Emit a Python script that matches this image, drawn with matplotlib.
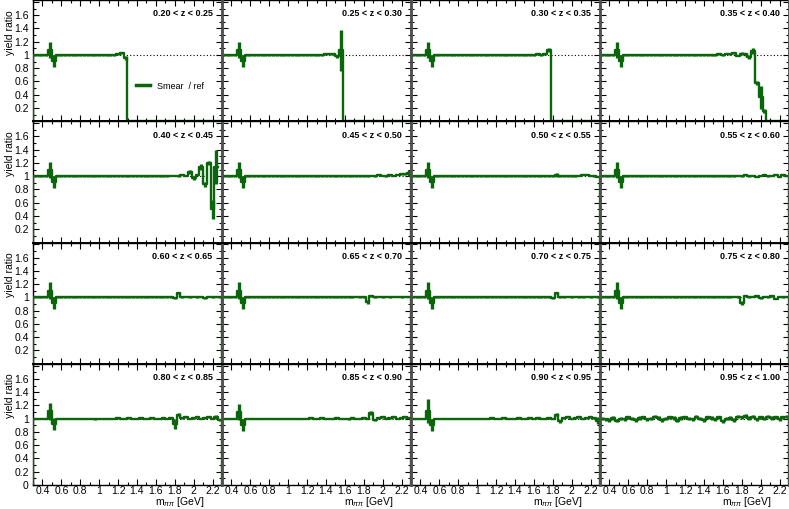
import numpy as np
import matplotlib
matplotlib.use('Agg')
import matplotlib.pyplot as plt
from matplotlib.lines import Line2D
from matplotlib.ticker import MultipleLocator

plt.rcParams['font.family'] = ['Liberation Sans', 'DejaVu Sans']
plt.rcParams['mathtext.fontset'] = 'custom'
plt.rcParams['mathtext.rm'] = 'Liberation Sans'
plt.rcParams['mathtext.it'] = 'Liberation Sans:italic'

# binning of the m_pipi histograms (GeV)
m_lo, m_hi, n_bins = 0.3, 2.3, 50

z_labels = ["0.20 < z < 0.25", "0.25 < z < 0.30", "0.30 < z < 0.35", "0.35 < z < 0.40",
            "0.40 < z < 0.45", "0.45 < z < 0.50", "0.50 < z < 0.55", "0.55 < z < 0.60",
            "0.60 < z < 0.65", "0.65 < z < 0.70", "0.70 < z < 0.75", "0.75 < z < 0.80",
            "0.80 < z < 0.85", "0.85 < z < 0.90", "0.90 < z < 0.95", "0.95 < z < 1.00"]

# smear / ref yield ratio, one value per m_pipi bin
ratio_z1 = [1.00, 1.00, 1.00, 1.00, 1.08, 0.91, 1.00, 1.00, 1.00, 1.00,
            1.00, 1.00, 1.00, 1.00, 1.00, 1.00, 1.00, 1.00, 1.00, 1.00,
            1.00, 1.00, 1.01, 1.03, 0.95, 0, 0, 0, 0, 0,
            0, 0, 0, 0, 0, 0, 0, 0, 0, 0,
            0, 0, 0, 0, 0, 0, 0, 0, 0, 0]
ratio_z2 = [1.00, 1.00, 1.00, 1.00, 1.08, 0.91, 1.00, 1.00, 1.00, 1.00,
            1.00, 1.00, 1.00, 1.00, 1.00, 1.00, 1.00, 1.00, 1.00, 1.00,
            1.00, 1.00, 1.00, 1.00, 1.00, 1.00, 1.00, 1.01, 1.01, 1.02,
            0.98, 1.07, 0, 0, 0, 0, 0, 0, 0, 0,
            0, 0, 0, 0, 0, 0, 0, 0, 0, 0]
ratio_z3 = [1.00, 1.00, 1.00, 1.00, 1.08, 0.91, 1.00, 1.00, 1.00, 1.00,
            1.00, 1.00, 1.00, 1.00, 1.00, 1.00, 1.00, 1.00, 1.00, 1.00,
            1.00, 1.00, 1.00, 1.00, 1.00, 1.00, 1.00, 1.00, 1.00, 1.00,
            1.00, 1.00, 1.00, 1.01, 1.00, 1.01, 1.07, 0, 0, 0,
            0, 0, 0, 0, 0, 0, 0, 0, 0, 0]
ratio_z4 = [1.00, 1.00, 1.00, 1.00, 1.08, 0.91, 1.00, 1.00, 1.00, 1.00,
            1.00, 1.00, 1.00, 1.00, 1.00, 1.00, 1.00, 1.00, 1.00, 1.00,
            1.00, 1.00, 1.00, 1.00, 1.00, 1.00, 1.00, 1.00, 1.00, 1.00,
            1.00, 1.01, 1.00, 1.02, 1.01, 1.03, 0.99, 1.02, 1.01, 0.97,
            1.06, 0.58, 0.36, 0.15, 0, 0, 0, 0, 0, 0]
ratio_z5 = [1.00, 1.00, 1.00, 1.00, 1.09, 0.91, 1.00, 1.00, 1.00, 1.00,
            1.00, 1.00, 1.00, 1.00, 1.00, 1.00, 1.00, 1.00, 1.00, 1.00,
            1.00, 1.00, 1.00, 1.00, 1.00, 1.00, 1.00, 1.00, 1.00, 1.00,
            1.00, 1.00, 1.00, 1.00, 1.00, 1.00, 1.01, 1.01, 1.00, 1.02,
            1.01, 1.06, 0.97, 1.02, 1.14, 0.88, 1.20, 0.50, 1.14, np.nan]
ratio_z6 = [1.00, 1.00, 1.00, 1.00, 1.09, 0.91, 1.00, 1.00, 1.00, 1.00,
            1.00, 1.00, 1.00, 1.00, 1.00, 1.00, 1.00, 1.00, 1.00, 1.00,
            1.00, 1.00, 1.00, 1.00, 1.00, 1.00, 1.00, 1.00, 1.00, 1.00,
            1.00, 1.00, 1.00, 1.00, 1.00, 1.00, 1.00, 1.00, 1.00, 1.01,
            1.00, 1.02, 1.01, 1.00, 1.02, 1.01, 1.02, 1.03, 1.03, 1.05]
ratio_z7 = [1.00, 1.00, 1.00, 1.00, 1.09, 0.92, 1.00, 1.00, 1.00, 1.00,
            1.00, 1.00, 1.00, 1.00, 1.00, 1.00, 1.00, 1.00, 1.00, 1.00,
            1.00, 1.00, 1.00, 1.00, 1.00, 1.00, 1.00, 1.00, 1.00, 1.00,
            1.00, 1.00, 1.00, 1.00, 1.00, 1.00, 1.00, 1.00, 1.02, 1.00,
            1.00, 1.00, 1.00, 1.00, 1.01, 1.02, 1.02, 1.01, 1.00, 0.99]
ratio_z8 = [1.00, 1.00, 1.00, 1.00, 1.09, 0.91, 1.00, 1.00, 1.00, 1.00,
            1.00, 1.00, 1.00, 1.00, 1.00, 1.00, 1.00, 1.00, 1.00, 1.00,
            1.00, 1.00, 1.00, 1.00, 1.00, 1.00, 1.00, 1.00, 1.00, 1.00,
            1.00, 1.00, 1.00, 1.00, 1.00, 1.00, 1.01, 1.00, 1.02, 1.00,
            1.01, 0.99, 1.01, 1.02, 1.00, 1.01, 1.02, 0.99, 1.02, 1.01]
ratio_z9 = [1.00, 1.00, 1.00, 1.00, 1.10, 0.91, 1.00, 1.00, 1.00, 1.00,
            1.00, 1.00, 1.00, 1.00, 1.00, 1.00, 1.00, 1.00, 1.00, 1.00,
            1.00, 1.00, 1.00, 1.00, 1.00, 1.00, 1.00, 1.00, 1.00, 1.00,
            1.00, 1.00, 1.00, 1.00, 1.00, 1.00, 1.00, 0.99, 1.07, 1.00,
            1.01, 1.00, 1.01, 1.00, 1.01, 0.99, 1.01, 1.00, 1.01, 1.00]
ratio_z10 = [1.00, 1.00, 1.00, 1.00, 1.10, 0.91, 1.00, 1.00, 1.00, 1.00,
             1.00, 1.00, 1.00, 1.00, 1.00, 1.00, 1.00, 1.00, 1.00, 1.00,
             1.00, 1.00, 1.00, 1.00, 1.00, 1.00, 1.00, 1.00, 1.00, 1.00,
             1.00, 1.00, 1.00, 1.00, 1.00, 1.01, 1.00, 1.00, 0.93, 1.02,
             1.00, 1.01, 1.00, 1.01, 1.00, 1.01, 1.01, 1.00, 1.01, 1.01]
ratio_z11 = [1.00, 1.00, 1.00, 1.00, 1.10, 0.91, 1.00, 1.00, 1.00, 1.00,
             1.00, 1.00, 1.00, 1.00, 1.00, 1.00, 1.00, 1.00, 1.00, 1.00,
             1.00, 1.00, 1.00, 1.00, 1.00, 1.00, 1.00, 1.00, 1.00, 1.00,
             1.00, 1.00, 1.00, 1.00, 1.00, 1.00, 1.00, 0.99, 1.07, 1.00,
             1.00, 1.01, 1.00, 1.01, 1.00, 1.00, 1.01, 1.00, 1.01, 1.00]
ratio_z12 = [1.00, 1.00, 1.00, 1.00, 1.10, 0.91, 1.00, 1.00, 1.00, 1.00,
             1.00, 1.00, 1.00, 1.00, 1.00, 1.00, 1.00, 1.00, 1.00, 1.00,
             1.00, 1.00, 1.00, 1.00, 1.00, 1.00, 1.00, 1.00, 1.00, 1.00,
             1.00, 1.00, 1.00, 1.00, 1.00, 1.01, 1.00, 0.92, 1.03, 1.00,
             1.01, 1.02, 0.99, 1.01, 1.00, 1.02, 0.98, 1.01, 1.00, 1.01]
ratio_z13 = [1.00, 1.00, 1.00, 1.00, 1.11, 0.92, 1.00, 1.00, 1.00, 1.00,
             1.00, 1.00, 1.00, 1.00, 1.00, 1.00, 0.99, 1.00, 1.00, 1.00,
             1.00, 1.00, 1.01, 1.00, 1.00, 1.01, 1.00, 1.00, 1.01, 1.00,
             1.00, 1.01, 1.00, 1.00, 1.01, 1.00, 1.01, 0.92, 1.06, 1.01,
             1.02, 1.00, 1.01, 1.02, 1.00, 1.01, 1.02, 1.00, 1.03, 0.98]
ratio_z14 = [1.00, 1.00, 1.00, 1.00, 1.10, 0.91, 1.00, 1.00, 1.00, 1.00,
             1.00, 1.00, 1.00, 1.00, 1.00, 1.00, 1.00, 1.00, 1.00, 1.00,
             1.00, 1.00, 1.00, 1.01, 1.00, 1.00, 1.01, 1.00, 1.00, 1.00,
             1.01, 1.00, 1.00, 0.99, 1.01, 1.00, 1.00, 1.01, 1.00, 1.08,
             0.98, 1.01, 1.02, 1.00, 1.01, 1.02, 1.00, 1.01, 1.02, 1.01]
ratio_z15 = [1.00, 1.00, 1.00, 1.00, 1.12, 0.90, 1.00, 1.00, 1.00, 1.00,
             1.00, 1.00, 1.00, 1.00, 1.00, 1.00, 1.00, 1.00, 1.00, 1.00,
             1.00, 1.01, 1.00, 1.00, 1.01, 1.00, 1.00, 1.00, 1.01, 1.00,
             1.00, 1.01, 1.00, 1.01, 1.00, 1.00, 1.01, 1.00, 1.06, 0.96,
             1.01, 1.02, 1.00, 1.01, 1.02, 1.00, 1.01, 1.02, 1.01, 0.97]
ratio_z16 = [1.00, 0.99, 0.98, 1.01, 0.97, 1.00, 0.99, 1.02, 1.00, 0.98,
             1.01, 1.02, 0.99, 1.00, 1.03, 1.01, 0.98, 1.00, 1.02, 1.01,
             0.97, 1.01, 1.02, 1.00, 0.99, 1.03, 1.00, 0.98, 1.02, 1.01,
             0.99, 1.02, 0.96, 1.00, 1.01, 0.98, 1.03, 1.02, 1.04, 1.01,
             1.03, 0.99, 1.02, 1.00, 1.03, 1.01, 1.02, 0.99, 1.02, 1.03]

# typical statistical error per panel, plus the bins with visibly larger error bars
base_err = [0.008] * 15 + [0.025]
k0_err = {4: 0.12, 5: 0.09}
big_err = [
    {23: 0.02, 24: 0.03},
    {29: 0.01, 30: 0.02, 31: 0.31},
    {36: 0.03},
    {37: 0.02, 38: 0.02, 39: 0.03, 40: 0.04, 41: 0.03, 42: 0.17, 43: 0.03},
    {41: 0.03, 42: 0.03, 43: 0.02, 44: 0.05, 45: 0.04, 46: 0.03, 47: 0.14, 48: 0.26},
    {49: 0.05},
    {38: 0.03},
    {},
    {4: 0.13, 38: 0.02},
    {4: 0.13, 38: 0.03},
    {4: 0.13, 38: 0.02},
    {4: 0.13, 37: 0.03},
    {4: 0.13, 37: 0.08, 38: 0.02, 48: 0.03},
    {4: 0.12, 39: 0.03},
    {4: 0.18, 38: 0.02, 39: 0.02, 49: 0.05},
    {},
]

ratios = [ratio_z1, ratio_z2, ratio_z3, ratio_z4, ratio_z5, ratio_z6, ratio_z7, ratio_z8,
          ratio_z9, ratio_z10, ratio_z11, ratio_z12, ratio_z13, ratio_z14, ratio_z15, ratio_z16]

green = '#0b660b'
W, H = 789, 509
left0, pw, ph = 33, 189, 121.25

edges = np.linspace(m_lo, m_hi, n_bins + 1)
centers = 0.5 * (edges[1:] + edges[:-1])

fig = plt.figure(figsize=(W / 100, H / 100), dpi=100)

for k in range(16):
    r, c = divmod(k, 4)
    ax = fig.add_axes([(left0 + c * pw) / W, 1 - (r + 1) * ph / H, pw / W, ph / H])

    y = np.array(ratios[k], dtype=float)
    err = np.full(n_bins, base_err[k])
    if k < 15:
        for i, e in k0_err.items():
            err[i] = e
    for i, e in big_err[k].items():
        err[i] = e

    ax.axhline(1.0, color='black', ls=(0, (1, 2)), lw=0.8, zorder=1)

    # histogram outline, starting and ending on zero like ROOT does
    xs = np.concatenate([[edges[0]], np.repeat(edges, 2)[1:-1], [edges[-1]]])
    ys = np.concatenate([[0.0], np.repeat(y, 2), [0.0]])
    ax.plot(xs, ys, color=green, lw=1.7, zorder=3)
    ok = np.isfinite(y) & (y > 0)
    ax.errorbar(centers[ok], y[ok], yerr=err[ok], fmt='none', ecolor=green,
                elinewidth=2.4, capsize=0, zorder=3)

    ax.set_xlim(m_lo, m_hi)
    ax.set_ylim(0, 1.83)

    ax.set_xticks(np.arange(0.4, 2.21, 0.2))
    ax.xaxis.set_minor_locator(MultipleLocator(0.1))
    yt = np.arange(0, 1.81, 0.2)
    ax.set_yticks(yt)
    ax.yaxis.set_minor_locator(MultipleLocator(0.1))
    ax.tick_params(which='both', direction='in', top=True, right=True,
                   labelsize=7.5, width=0.8, colors='black')
    ax.tick_params(which='major', length=4.3)
    ax.tick_params(which='minor', length=2.2)
    ax.tick_params(axis='y', pad=3)
    ax.tick_params(axis='x', pad=0.8)

    if c == 0:
        labs = []
        for v in yt:
            if v > 1.7 or (v < 0.1 and r < 3):
                labs.append('')
            else:
                labs.append(f'{round(v, 1):g}')
        ax.set_yticklabels(labs)
        ax.text(-0.122, 1 - 10 / ph, 'yield ratio', transform=ax.transAxes,
                rotation=90, ha='center', va='top', fontsize=7.5)
    else:
        ax.set_yticklabels([])

    if r == 3:
        ax.set_xticklabels([f'{round(v, 1):g}' for v in np.arange(0.4, 2.21, 0.2)])
        ax.text(0.905, -0.142, r'm$_{\pi\pi}$ [GeV]', transform=ax.transAxes,
                ha='right', va='center', fontsize=7.5)
    else:
        ax.set_xticklabels([])

    for s in ax.spines.values():
        s.set_linewidth(1.0)
        s.set_color('black')

    ax.text(0.95, 0.885, z_labels[k], transform=ax.transAxes, ha='right', va='center',
            fontsize=6.5, fontweight='bold')

    if k == 0:
        h = Line2D([], [], color=green, lw=2.5)
        ax.legend([h], ['Smear  / ref'], loc='center left', bbox_to_anchor=(0.5, 0.29),
                  frameon=False, fontsize=6.5, handlelength=1.6, handletextpad=0.8)

# dark separators between the columns
for c in range(1, 5):
    xf = (left0 + c * pw) / W
    fig.add_artist(Line2D([xf, xf], [1 - 4 * ph / H, 1], color='#505050', lw=2.0,
                          transform=fig.transFigure, zorder=10))
for r in range(1, 4):
    yf = 1 - r * ph / H
    fig.add_artist(Line2D([left0 / W, 1], [yf, yf], color='black', lw=1.4,
                          transform=fig.transFigure, zorder=10))

fig.savefig('out.png', dpi=100)
